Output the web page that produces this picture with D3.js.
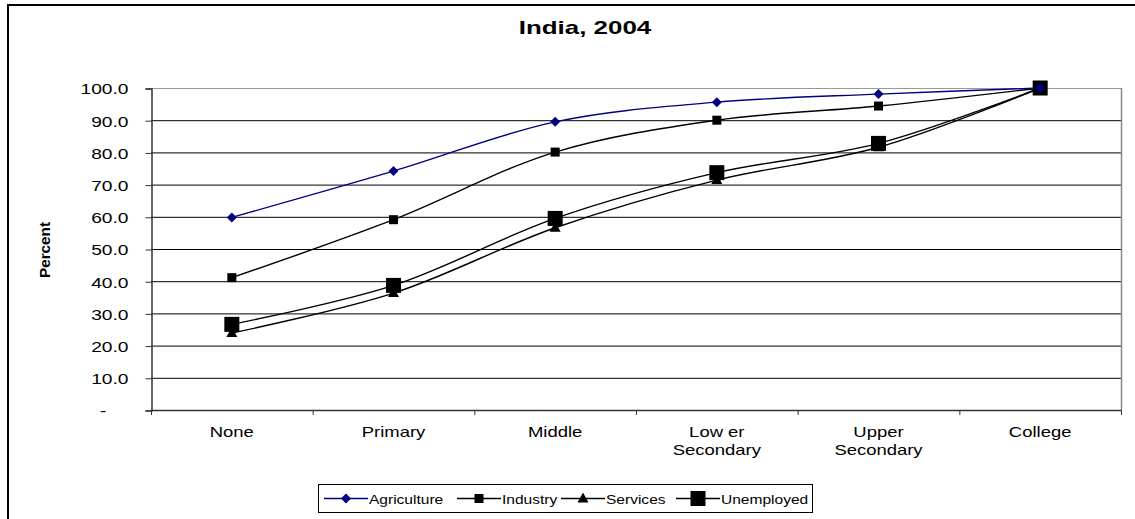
<!DOCTYPE html>
<html><head><meta charset="utf-8">
<script src="https://cdn.jsdelivr.net/npm/d3@7"></script>
<style>body{margin:0;background:#fff}svg{display:block;font-family:"Liberation Sans",Arial,sans-serif}</style>
</head><body><svg id="c" width="1135" height="519"></svg>
<script>
// Data
const catKeys = ["None","Primary","Middle","Lower Secondary","Upper Secondary","College"];
const catLines = [["None"],["Primary"],["Middle"],["Low er","Secondary"],["Upper","Secondary"],["College"]];
const agriculture = [59.8, 74.2, 89.5, 95.6, 98.1, 100];
const industry    = [41.1, 59.1, 80.1, 90.0, 94.4, 100];
const services    = [23.9, 36.3, 56.6, 71.4, 81.6, 100];
const unemployed  = [26.6, 38.7, 59.5, 73.7, 82.8, 100];
const yTicks = [0,10,20,30,40,50,60,70,80,90,100];
const seriesNames = ["Agriculture","Industry","Services","Unemployed"];

const svg = d3.select("#c");
function stretch(sel, k){
  sel.each(function(){
    const n=this; const w=n.getComputedTextLength();
    if(w>0){ d3.select(n).attr("textLength", w*k).attr("lengthAdjust","spacingAndGlyphs"); }
  });
}

svg.append("rect").attr("x",8).attr("y",5).attr("width",1140).attr("height",520)
  .attr("fill","none").attr("stroke","#000").attr("stroke-width",2);

const L=151, R=1121, T=88, B=410;
const x = d3.scaleBand().domain(catKeys).range([L,R]);
const y = d3.scaleLinear().domain([0,100]).range([B,T]);

svg.append("g").selectAll("line").data(yTicks.filter(d=>d>0)).join("line")
  .attr("x1",L).attr("x2",R).attr("y1",d=>y(d)+0.5).attr("y2",d=>y(d)+0.5)
  .attr("stroke",d=>d===100?"#999":"#000").attr("stroke-width",1);
svg.append("line").attr("x1",R+0.5).attr("x2",R+0.5).attr("y1",T).attr("y2",B)
  .attr("stroke","#888").attr("stroke-width",1.5);

const yAxis = d3.axisLeft(y).tickValues(yTicks).tickSize(6).tickPadding(17)
  .tickFormat(d=>d===0?"-":d3.format(".1f")(d));
const gy = svg.append("g").attr("transform",`translate(${L+0.5},0.5)`).call(yAxis);
gy.select(".domain").attr("stroke","#333").attr("stroke-width",1.5);
gy.selectAll(".tick line").attr("stroke","#333");
gy.selectAll("text").attr("font-size",15).attr("fill","#000").attr("font-family","Liberation Sans, Arial").attr("dy","0.36em");
gy.selectAll(".tick").filter(d=>d===0).select("text").attr("dx",-22);
stretch(gy.selectAll("text"),1.28);

const boundaries = d3.range(7).map(i=>L+i*x.bandwidth());
svg.append("line").attr("x1",L).attr("x2",R).attr("y1",B+0.5).attr("y2",B+0.5).attr("stroke","#333").attr("stroke-width",1.5);
svg.append("g").selectAll("line").data(boundaries).join("line")
  .attr("x1",d=>d+0.5).attr("x2",d=>d+0.5).attr("y1",B).attr("y2",B+5).attr("stroke","#333");
const xg = svg.append("g");
catKeys.forEach((d,i)=>{
  catLines[i].forEach((s,j)=>{
    const ts=xg.append("text").attr("x",x(d)+x.bandwidth()/2).attr("y",B+27+j*18)
      .attr("text-anchor","middle").attr("font-size",15).attr("fill","#000").text(s);
    stretch(ts,1.23);
  });
});

const title = svg.append("text").attr("x",585).attr("y",34).attr("text-anchor","middle")
  .attr("font-weight","bold").attr("font-size",18.5).text("India, 2004");
stretch(title,1.4);
const ylab = svg.append("text").attr("transform","translate(50,250) rotate(-90)").attr("text-anchor","middle")
  .attr("font-weight","bold").attr("font-size",14).text("Percent");
ylab.attr("textLength",56).attr("lengthAdjust","spacingAndGlyphs");

const series = [
  {name:"Agriculture", vals:agriculture, color:"#000080", marker:"diamond", size:8},
  {name:"Industry", vals:industry, color:"#000", marker:"square", size:9},
  {name:"Services", vals:services, color:"#000", marker:"triangle", size:10},
  {name:"Unemployed", vals:unemployed, color:"#000", marker:"square", size:15},
];
function drawMarker(g, s, cx, cy){
  const h=s.size/2;
  if(s.marker==="diamond"){
    g.append("path").attr("d",`M${cx},${cy-h-1}L${cx+h+1},${cy}L${cx},${cy+h+1}L${cx-h-1},${cy}Z`).attr("fill",s.color);
  } else if(s.marker==="square"){
    g.append("rect").attr("x",cx-h).attr("y",cy-h).attr("width",s.size).attr("height",s.size).attr("fill",s.color);
  } else {
    g.append("path").attr("d",`M${cx},${cy-h-1}L${cx+h+0.5},${cy+h-1}L${cx-h-0.5},${cy+h-1}Z`).attr("fill",s.color);
  }
}
const line = d3.line().curve(d3.curveCatmullRom.alpha(0.5))
  .x((d,i)=>x(catKeys[i])+x.bandwidth()/2).y(d=>y(d));
[...series].reverse().forEach(s=>{
  svg.append("path").datum(s.vals).attr("d",line).attr("fill","none")
    .attr("stroke",s.color).attr("stroke-width",1.4);
});
[...series].reverse().forEach(s=>{
  const g=svg.append("g");
  s.vals.forEach((v,i)=>drawMarker(g,s,x(catKeys[i])+x.bandwidth()/2,y(v)));
});

const legendStarts = [324, 457, 561, 676];
const lg = svg.append("g");
lg.append("rect").attr("x",318.5).attr("y",484.5).attr("width",494).attr("height",28)
  .attr("fill","#fff").attr("stroke","#000");
series.forEach((s,i)=>{
  const lx=legendStarts[i];
  lg.append("line").attr("x1",lx).attr("x2",lx+44).attr("y1",498.5).attr("y2",498.5).attr("stroke",s.color).attr("stroke-width",1.4);
  drawMarker(lg,s,lx+22,498.5);
  const t=lg.append("text").attr("x",lx+45).attr("y",503.5).attr("font-size",13.5).text(s.name);
  stretch(t,1.15);
});
</script>
</body></html>
